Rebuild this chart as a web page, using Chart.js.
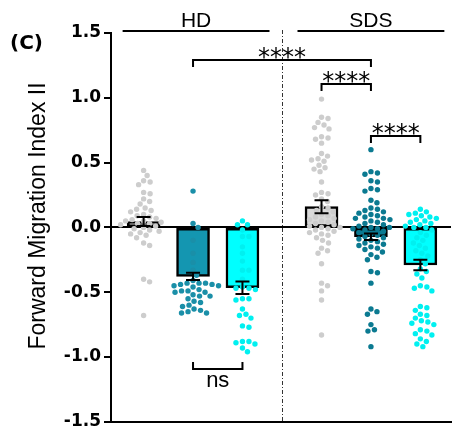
<!DOCTYPE html>
<html>
<head>
<meta charset="utf-8">
<script src="https://cdn.jsdelivr.net/npm/chart.js@4.4.1/dist/chart.umd.min.js"></script>
<style>
  html, body { margin: 0; padding: 0; background: #fff; }
  #chart { display: block; }
</style>
</head>
<body>
<canvas id="chart" width="455" height="435"></canvas>
<script>
'use strict';

// ─── Data ─────────────────────────────────────────────────────
const categories = ['HD 1', 'HD 2', 'HD 3', 'SDS 1', 'SDS 2', 'SDS 3'];
const groupNames = ['HD', 'SDS'];
const yTicks     = [-1.5, -1.0, -0.5, 0, 0.5, 1.0, 1.5];

const barMeans = [0.045, -0.378, -0.465, 0.16, -0.072, -0.29];
const barSem   = [0.035, 0.028, 0.048, 0.05, 0.025, 0.04];

const hd1Points = [0.44, 0.40, 0.36, 0.35, 0.33, 0.27, 0.26, 0.22, 0.20, 0.18, 0.15, 0.14, 0.13,
  0.12, 0.10, 0.09, 0.08, 0.07, 0.06, 0.05, 0.05, 0.04, 0.03, 0.03, 0.02, 0.01, 0.00, -0.01,
  -0.02, -0.03, -0.04, -0.05, -0.06, -0.08, -0.12, -0.14, -0.40, -0.42, -0.68];
const hd2Points = [0.28, 0.03, 0.00, -0.10, -0.20, -0.27, -0.33, -0.37, -0.41, -0.43, -0.43,
  -0.43, -0.44, -0.44, -0.45, -0.45, -0.46, -0.48, -0.49, -0.49, -0.50, -0.50, -0.52, -0.53,
  -0.53, -0.55, -0.57, -0.58, -0.60, -0.61, -0.63, -0.64, -0.65, -0.66, -0.66];
const hd3Points = [0.05, 0.02, 0.02, -0.02, -0.07, -0.07, -0.15, -0.20, -0.26, -0.33, -0.33,
  -0.40, -0.46, -0.47, -0.47, -0.48, -0.55, -0.55, -0.56, -0.63, -0.67, -0.68, -0.70, -0.76,
  -0.77, -0.88, -0.88, -0.89, -0.90, -0.93, -0.96];
const sds1Points = [0.99, 0.85, 0.84, 0.81, 0.79, 0.77, 0.76, 0.70, 0.69, 0.68, 0.65, 0.57,
  0.55, 0.53, 0.52, 0.51, 0.48, 0.46, 0.45, 0.43, 0.35, 0.27, 0.26, 0.25, 0.22, 0.20, 0.16,
  0.15, 0.13, 0.12, 0.10, 0.09, 0.08, 0.07, 0.06, 0.05, 0.04, 0.03, 0.02, 0.01, 0.00, 0.00,
  -0.01, -0.02, -0.03, -0.04, -0.05, -0.06, -0.08, -0.10, -0.12, -0.16, -0.18, -0.20, -0.28,
  -0.43, -0.45, -0.49, -0.56, -0.83];
const sds2Points = [0.60, 0.43, 0.42, 0.41, 0.36, 0.35, 0.30, 0.29, 0.28, 0.21, 0.19, 0.15,
  0.14, 0.13, 0.12, 0.11, 0.10, 0.09, 0.08, 0.07, 0.07, 0.06, 0.05, 0.04, 0.03, 0.02, 0.01,
  0.00, 0.00, -0.01, -0.01, -0.02, -0.03, -0.04, -0.05, -0.06, -0.07, -0.08, -0.09, -0.10,
  -0.11, -0.12, -0.13, -0.14, -0.15, -0.16, -0.17, -0.19, -0.21, -0.23, -0.25, -0.34, -0.35,
  -0.43, -0.63, -0.65, -0.67, -0.75, -0.79, -0.80, -0.92];
const sds3Points = [0.14, 0.12, 0.11, 0.10, 0.09, 0.08, 0.07, 0.06, 0.05, 0.04, 0.03, 0.02,
  0.01, 0.00, 0.00, -0.02, -0.04, -0.06, -0.08, -0.10, -0.12, -0.14, -0.16, -0.18, -0.20,
  -0.22, -0.25, -0.28, -0.32, -0.34, -0.36, -0.39, -0.45, -0.46, -0.47, -0.49, -0.61, -0.62,
  -0.64, -0.67, -0.68, -0.70, -0.72, -0.73, -0.74, -0.75, -0.79, -0.80, -0.82, -0.83, -0.86,
  -0.88, -0.90, -0.92];

const pointSets = [hd1Points, hd2Points, hd3Points, sds1Points, sds2Points, sds3Points];

// comparisons between bars (indices into categories)
const compFrom   = [1, 3, 4, 1];
const compTo     = [4, 4, 5, 2];
const compY      = [1.29, 1.105, 0.705, -1.09];
const compLabels = ['****', '****', '****', 'ns'];

// ─── Styles ───────────────────────────────────────────────────
const barColors   = ['#d9d9d9', '#1496b1', '#00ffff', '#d9d9d9', '#0b7a91', '#00ffff'];
const pointColors = ['#cdcdcd', '#1a8fa8', '#00f0f0', '#cdcdcd', '#0b7a91', '#00f0f0'];

// bar slot on the x axis, with a gap between the two groups
const xPos = i => i + 1 + (i >= 3 ? 0.6 : 0);
const dividerX = (xPos(2) + xPos(3)) / 2;

// simple beeswarm: horizontal pixel offsets so dots don't overlap
function swarmOffsets(values, yScale, diam) {
  const placed = [];
  const out = new Array(values.length);
  const order = values.map((v, i) => i).sort((a, b) => values[b] - values[a]);
  for (const i of order) {
    const y = yScale.getPixelForValue(values[i]);
    const near = placed.filter(p => Math.abs(p.y - y) < diam);
    let dx = 0;
    for (let k = 0; k < 400; k++) {
      const cand = (k % 2 === 1 ? 1 : -1) * Math.ceil(k / 2) * 0.5;
      if (near.every(p => (cand - p.dx) ** 2 + (y - p.y) ** 2 >= diam * diam)) { dx = cand; break; }
    }
    placed.push({ y, dx });
    out[i] = dx;
  }
  return out;
}

// ─── Extras: error bars, brackets, group labels, titles ──────
const extras = {
  id: 'extras',
  afterDatasetsDraw(chart) {
    const { ctx, chartArea } = chart;
    const xs = chart.scales.x, ys = chart.scales.y;
    ctx.save();

    // dash-dot divider between HD and SDS
    const dx = Math.round(xs.getPixelForValue(dividerX)) + 0.5;
    ctx.strokeStyle = '#333';
    ctx.lineWidth = 1;
    ctx.setLineDash([4, 2, 1, 2]);
    ctx.beginPath();
    ctx.moveTo(dx, chartArea.top - 3);
    ctx.lineTo(dx, chartArea.bottom);
    ctx.stroke();
    ctx.setLineDash([]);

    // SEM error bars
    ctx.strokeStyle = '#000';
    ctx.lineWidth = 2;
    barMeans.forEach((m, i) => {
      const x = xs.getPixelForValue(xPos(i));
      const y1 = ys.getPixelForValue(m - barSem[i]);
      const y2 = ys.getPixelForValue(m + barSem[i]);
      ctx.beginPath();
      ctx.moveTo(x, y1); ctx.lineTo(x, y2);
      ctx.moveTo(x - 7, y1); ctx.lineTo(x + 7, y1);
      ctx.moveTo(x - 7, y2); ctx.lineTo(x + 7, y2);
      ctx.stroke();
    });

    // significance brackets
    ctx.fillStyle = '#000';
    ctx.textAlign = 'center';
    compLabels.forEach((lab, k) => {
      const x1 = xs.getPixelForValue(xPos(compFrom[k]));
      const x2 = xs.getPixelForValue(xPos(compTo[k]));
      const y = Math.round(ys.getPixelForValue(compY[k]));
      const below = compY[k] < 0;
      const leg = below ? -7 : 7;
      ctx.beginPath();
      ctx.moveTo(x1, y + leg); ctx.lineTo(x1, y); ctx.lineTo(x2, y); ctx.lineTo(x2, y + leg);
      ctx.stroke();
      ctx.textBaseline = 'alphabetic';
      if (below) {
        ctx.font = '22px "Liberation Sans", Arial, sans-serif';
        ctx.fillText(lab, (x1 + x2) / 2, y + 18);
      } else {
        ctx.font = '24px "DejaVu Sans", sans-serif';
        ctx.fillText(lab, (x1 + x2) / 2, y + 5);
      }
    });

    // group headers
    const lineY = chartArea.top - 2;
    const spans = [
      [xs.getPixelForValue(xPos(0)) - 21, dx - 13],
      [dx + 15, xs.getPixelForValue(xPos(5)) + 24],
    ];
    ctx.font = '21px "Liberation Sans", Arial, sans-serif';
    groupNames.forEach((g, i) => {
      const [a, b] = spans[i];
      ctx.beginPath();
      ctx.moveTo(a, lineY); ctx.lineTo(b, lineY);
      ctx.stroke();
      ctx.fillText(g, (a + b) / 2, lineY - 4);
    });

    // panel letter
    ctx.textAlign = 'left';
    ctx.font = 'bold 20px "DejaVu Sans", sans-serif';
    ctx.fillText('(C)', 10, 49);

    // y axis title
    ctx.translate(39, 216);
    ctx.rotate(-Math.PI / 2);
    ctx.textAlign = 'center';
    ctx.textBaseline = 'middle';
    ctx.font = '23px "Liberation Sans", Arial, sans-serif';
    ctx.fillText('Forward Migration Index II', 0, 0);

    ctx.restore();
  },
};

// ─── Chart ────────────────────────────────────────────────────
const datasets = [{
  type: 'bar',
  label: 'mean',
  data: barMeans.map((m, i) => ({ x: xPos(i), y: m })),
  backgroundColor: barColors,
  borderColor: '#000',
  borderWidth: 2.5,
  borderSkipped: false,
  barThickness: 33,
  order: 2,
}];
pointSets.forEach((vals, i) => {
  datasets.push({
    type: 'scatter',
    label: categories[i],
    data: vals.map(v => ({ x: xPos(i), y: v })),
    pointRadius: 2.7,
    pointBorderWidth: 0,
    pointBackgroundColor: pointColors[i],
    showLine: false,
    order: 1,
  });
});

const chart = new Chart(document.getElementById('chart').getContext('2d'), {
  type: 'bar',
  data: { datasets },
  options: {
    responsive: false,
    animation: false,
    devicePixelRatio: 1,
    layout: { padding: { top: 33, right: 0, bottom: 11, left: 0 } },
    plugins: { legend: { display: false }, tooltip: { enabled: false } },
    scales: {
      x: {
        type: 'linear',
        min: 0.34,
        max: 7.22,
        offset: false,
        grid: { display: false },
        ticks: { display: false },
        border: { display: true, color: '#000', width: 2 },
        afterFit: s => { s.height = 0; },
      },
      y: {
        min: -1.5,
        max: 1.5,
        afterBuildTicks: s => { s.ticks = yTicks.map(v => ({ value: v })); },
        afterFit: s => { s.width = 111; },
        grid: {
          color: c => (c.tick && c.tick.value === 0 ? '#000' : 'rgba(0,0,0,0)'),
          lineWidth: 2,
          tickColor: '#000',
          tickWidth: 2,
          tickLength: 7,
        },
        border: { display: true, color: '#000', width: 2 },
        ticks: {
          color: '#000',
          padding: 3,
          font: { family: '"DejaVu Sans", sans-serif', size: 17, weight: 'bold' },
          callback: v => v.toFixed(1),
        },
      },
    },
  },
  plugins: [extras],
});

// spread the dots once the scales are known
const xs = chart.scales.x, ys = chart.scales.y;
const pxPerUnit = xs.getPixelForValue(1) - xs.getPixelForValue(0);
pointSets.forEach((vals, i) => {
  const off = swarmOffsets(vals, ys, 6.2);
  chart.data.datasets[i + 1].data = vals.map((v, j) => ({ x: xPos(i) + off[j] / pxPerUnit, y: v }));
});
chart.update('none');
</script>
</body>
</html>
